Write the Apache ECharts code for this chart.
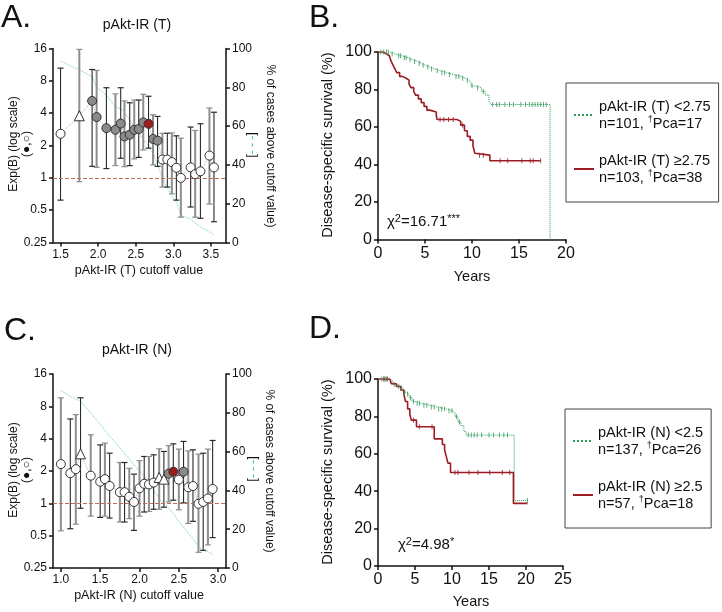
<!DOCTYPE html>
<html><head><meta charset="utf-8">
<script src="https://cdn.jsdelivr.net/npm/echarts@6/dist/echarts.min.js"></script>
<style>html,body{margin:0;padding:0;background:#fff}#c{width:722px;height:612px}</style>
</head><body><div id="c"></div><script>
const FONT = '"Liberation Sans", Arial, Helvetica, sans-serif';
const GREEN = '#2f9a5a', RED = '#9c1c24', CYAN = '#6ccfc6', DASH = '#b9705a';

// ---------- Panel A : pAkt-IR (T) ----------
const cutA  = [1.5,1.75,1.92,1.98,2.11,2.23,2.3,2.35,2.42,2.48,2.54,2.6,2.67,2.73,2.79,2.855,2.92,2.98,3.04,3.1,3.23,3.29,3.36,3.48,3.54];
const expA  = [2.57,3.78,5.2,3.68,2.9,2.8,3.2,2.43,2.52,2.8,2.85,3.28,3.18,2.3,2.22,1.48,1.48,1.4,1.24,1.0,1.25,1.08,1.15,1.61,1.25];
const loA   = [0.62,0.92,1.28,1.25,1.22,1.3,1.52,1.27,1.3,1.5,1.55,1.82,1.89,1.32,1.28,0.82,0.82,0.71,0.62,0.43,0.535,0.43,0.42,0.57,0.39];
const hiA   = [10.5,15.7,10.2,10,6.9,6.05,6.9,5.2,5.0,5.3,5.3,6.0,5.75,3.87,3.73,2.6,2.6,2.62,2.46,2.34,2.97,2.76,3.19,4.47,4.08];
const typeA = ['o','t','g','g','g','g','g','g','g','g','g','g','r','g','g','o','o','o','o','o','o','o','o','o','o'];
const pctA  = [93.5,89,85.5,80,76,70,69,67,63,60,57,53,50,46,40,33,28,24,21,14,12,10,8,5.5,4];

// ---------- Panel C : pAkt-IR (N) ----------
const cutC  = [1.0,1.12,1.19,1.25,1.38,1.5,1.56,1.62,1.75,1.81,1.87,1.93,2.0,2.06,2.12,2.18,2.25,2.31,2.37,2.43,2.5,2.56,2.62,2.68,2.75,2.81,2.87,2.93];
const expC  = [2.32,1.91,2.08,2.89,1.81,1.59,1.68,1.45,1.27,1.27,1.15,1.03,1.38,1.52,1.5,1.56,1.74,1.68,1.89,1.97,1.66,1.97,1.41,1.45,0.99,1.03,1.11,1.36];
const loC   = [0.555,0.58,0.64,0.9,0.76,0.74,0.76,0.73,0.67,0.67,0.72,0.56,0.76,0.83,0.84,0.88,0.88,0.92,1.03,1.07,0.87,1.01,0.65,0.68,0.35,0.365,0.41,0.48];
const hiC   = [9.6,6.1,6.7,9.6,4.35,3.5,3.64,2.93,2.4,2.4,2.12,1.87,2.5,2.73,2.73,2.83,3.22,3.04,3.45,3.58,3.2,3.77,3.08,3.15,2.87,2.93,3.2,3.85];
const typeC = ['o','o','o','t','o','o','o','o','o','o','o','o','o','o','o','o','t','t','g','r','o','g','o','o','o','o','o','o'];
const pctC  = [91.5,88.5,87,86,80,74,71,68,62,59,56.5,53,50,47.5,44,40,36,33,31,28,24,21,18,15,11,9,8.5,7];

const xTicksA = [1.5,2.0,2.5,3.0,3.5];
const xTicksC = [1.0,1.5,2.0,2.5,3.0];

// ---------- Panel B : Kaplan-Meier (T) ----------
const bLowName = 'pAkt-IR (T) <2.75', bHighName = 'pAkt-IR (T) \u22652.75';
const bLowT  = [0,1.3,1.8,2.5,3.2,3.6,4.2,4.6,5.0,5.5,6.0,6.6,7.3,8.0,8.8,9.3,9.6,9.9,10.3,11.0,11.4,11.8,12.0,18.3];
const bLowS  = [100,99,98,97,96,95,94,93,92,91,90,89,88,87,86,85,84,82,81,79,77,74,72,0];
const bLowCens = [0.3,0.6,0.9,1.1,1.5,2.2,2.4,2.8,3.0,3.4,3.9,4.4,4.8,5.3,5.7,6.3,6.8,7.1,7.6,8.3,8.6,9.0,9.5,10.0,10.6,11.2,12.2,12.6,12.9,13.5,14.0,14.4,15.2,15.7,16.1,16.4,16.7,17.0,17.3,17.6,17.9];
const bHighT = [0,0.5,0.9,1.2,1.4,1.6,1.8,2.0,2.3,2.6,3.0,3.3,3.5,3.8,4.0,4.3,4.6,4.9,5.2,5.5,6.2,6.3,8.4,8.8,9.2,9.5,9.8,10.1,10.3,10.5,11.9,17.3];
const bHighS = [100,99,98,97,95,93,91,89,87,86,85,83,81,79,77,75,73,71,69,68,66,64,63,61,58,55,53,50,46,45,42,42];
const bHighCens = [6.6,7.0,7.5,8.0,9.0,10.8,11.2,13.0,13.8,15.3,16.2,16.5,17.3];

// ---------- Panel D : Kaplan-Meier (N) ----------
const dLowName = 'pAkt-IR (N) <2.5', dHighName = 'pAkt-IR (N) \u22652.5';
const dLowT  = [0,1.6,2.0,2.6,3.0,3.4,3.8,4.2,4.6,5.0,5.8,7.0,8.0,9.2,10.1,10.4,10.8,11.2,11.6,11.9,18.4,20.2];
const dLowS  = [100,99,97,96,95,93,92,90,88,87,86,85,84,83,82,80,77,75,72,70,35,35];
const dLowCens = [0.5,0.8,1.0,1.3,2.2,2.8,3.2,3.6,4.0,4.4,4.8,5.3,5.6,6.2,6.6,7.2,7.6,8.2,8.6,9.0,9.6,10.0,10.6,11.0,12.2,12.6,13.0,13.4,14.0,15.0,15.6,16.4,17.0,17.5,20.2];
const dHighT = [0,1.6,1.8,2.5,3.1,3.5,3.7,4.0,4.3,4.5,5.2,7.6,8.7,9.0,9.2,9.45,9.8,18.3,20.2];
const dHighS = [100,99,97.5,96,94,92,88,84,81,78,74.5,68,65,62,59,55,50,33.5,33.5];
const dHighCens = [0.8,1.2,4.8,5.6,7.3,10.4,10.8,12.3,13.5,15.1,16.8,17.8];

const legendText = {
  [bLowName]:  ['pAkt-IR (T) <2.75', 'n=101, ', 'Pca=17'],
  [bHighName]: ['pAkt-IR (T) \u22652.75', 'n=103, ', 'Pca=38'],
  [dLowName]:  ['pAkt-IR (N) <2.5', 'n=137, ', 'Pca=26'],
  [dHighName]: ['pAkt-IR (N) \u22652.5', 'n=57, ', 'Pca=18']
};

// ---------- helpers ----------
function survAt(T, S, t) { let s = S[0]; for (let i = 0; i < T.length; i++) { if (T[i] <= t) s = S[i]; } return s; }
function axis(o, fs) {
  return Object.assign({
    type: 'value',
    axisLine: { show: true, onZero: false, lineStyle: { color: '#111', width: 1.5 } },
    axisTick: { show: true, length: 4, lineStyle: { color: '#111', width: 1.5 } },
    axisLabel: { color: '#111', fontFamily: FONT, fontSize: fs || 12, margin: 6 },
    splitLine: { show: false }
  }, o);
}
function errSeries(xi, yi, cut, lo, hi, startDark) {
  return {
    type: 'custom', xAxisIndex: xi, yAxisIndex: yi, z: 3, silent: true,
    data: cut.map((x, i) => [x, lo[i], hi[i]]),
    encode: { x: 0, y: [1, 2] },
    renderItem: function (params, api) {
      const x = api.value(0);
      const a = api.coord([x, api.value(1)]);
      const b = api.coord([x, api.value(2)]);
      const dark = ((params.dataIndex % 2) === 0) === startDark;
      const stroke = dark ? '#2a2a2a' : '#8e8e8e';
      const lw = dark ? 1.1 : 2;
      const c = 3;
      return { type: 'group', children: [
        { type: 'line', shape: { x1: a[0], y1: a[1], x2: b[0], y2: b[1] }, style: { stroke: stroke, lineWidth: lw } },
        { type: 'line', shape: { x1: a[0] - c, y1: a[1], x2: a[0] + c, y2: a[1] }, style: { stroke: stroke, lineWidth: 1.2 } },
        { type: 'line', shape: { x1: b[0] - c, y1: b[1], x2: b[0] + c, y2: b[1] }, style: { stroke: stroke, lineWidth: 1.2 } }
      ] };
    }
  };
}
function pts(xi, yi, cut, val, types, code, symbol, color, size) {
  return {
    type: 'scatter', xAxisIndex: xi, yAxisIndex: yi, z: 6, silent: true, symbol: symbol, symbolSize: size,
    itemStyle: { color: color, borderColor: '#333', borderWidth: 1, opacity: 1 },
    data: cut.map((x, i) => types[i] === code ? [x, val[i]] : null).filter(v => v)
  };
}
function markerSet(xi, yi, cut, val, types) {
  return [
    pts(xi, yi, cut, val, types, 'o', 'circle', '#fff', 9),
    pts(xi, yi, cut, val, types, 't', 'triangle', '#fff', 10),
    pts(xi, yi, cut, val, types, 'g', 'circle', '#8a8a8a', 9),
    pts(xi, yi, cut, val, types, 'r', 'circle', '#9c1c1c', 9)
  ];
}
function cutoffPanel(xi, yL, yR, cut, val, lo, hi, types, pct, startDark) {
  return [
    { type: 'line', xAxisIndex: xi, yAxisIndex: yR, z: 2, silent: true, symbol: 'none',
      data: cut.map((x, i) => [x, pct[i]]), lineStyle: { color: CYAN, width: 1, type: 'dotted' } },
    { type: 'line', xAxisIndex: xi, yAxisIndex: yL, z: 2, silent: true, symbol: 'none',
      data: cut.map((x, i) => [x, val[i]]), lineStyle: { color: '#b0b0b0', width: 1, type: 'dotted' },
      markLine: { silent: true, symbol: 'none', label: { show: false }, animation: false,
        lineStyle: { color: DASH, width: 1.2, type: [4, 2] }, data: [{ yAxis: 1 }] } },
    errSeries(xi, yL, cut, lo, hi, startDark)
  ].concat(markerSet(xi, yL, cut, val, types));
}
function kmSeries(xi, yi, name, T, S, cens, color, width, dash) {
  return [
    { type: 'line', name: name, xAxisIndex: xi, yAxisIndex: yi, step: 'end', symbol: 'none', silent: true, z: 3,
      data: T.map((t, i) => [t, S[i]]), lineStyle: { color: color, width: width, type: dash }, itemStyle: { color: color } },
    { type: 'scatter', name: name + ' censored', xAxisIndex: xi, yAxisIndex: yi, silent: true, z: 4,
      symbol: 'rect', symbolSize: [1, 5], itemStyle: { color: color },
      data: cens.map(t => [t, survAt(T, S, t)]) }
  ];
}
function legendCfg(names, left, top) {
  return {
    data: names, orient: 'vertical', left: left, top: top,
    borderColor: '#444', borderWidth: 1, padding: [15, 8, 16, 7],
    itemGap: 20, itemWidth: 20, itemHeight: 8, selectedMode: false,
    itemStyle: { opacity: 0 },
    textStyle: { fontFamily: FONT, fontSize: 14.5, color: '#111', lineHeight: 17,
      rich: { t: { fontFamily: FONT, fontSize: 14.5, lineHeight: 17, color: '#111' },
              s: { fontFamily: FONT, fontSize: 9, lineHeight: 9, verticalAlign: 'top', color: '#111' } } },
    formatter: function (n) { const L = legendText[n]; return '{t|' + L[0] + '}\n{t|' + L[1] + '}{s|\u2020}{t|' + L[2] + '}'; }
  };
}
const supRich = { m: { fontFamily: FONT, fontSize: 15, lineHeight: 18, fill: '#111' },
                  s: { fontFamily: FONT, fontSize: 11, lineHeight: 8, verticalAlign: 'top', fill: '#111' } };
function txt(x, y, text, fs, rot) {
  return { type: 'text', x: x, y: y, rotation: rot || 0, silent: true,
    style: { text: text, fontFamily: FONT, fontSize: fs, fill: '#111', align: 'center', verticalAlign: 'middle' } };
}
function letter(x, y, t) {
  return { type: 'text', x: x, y: y, silent: true, style: { text: t, fontFamily: FONT, fontSize: 32, fill: '#111', align: 'left', verticalAlign: 'middle' } };
}
const logLabel = v => String(+(+v).toPrecision(4));
const bracketStyle = { text: '[{c|- - -}]', fontFamily: FONT, fontSize: 12, fill: '#111', align: 'center', verticalAlign: 'middle',
  rich: { c: { fontFamily: FONT, fontSize: 12, fill: '#3fb5ad' } } };

const option = {
  animation: false,
  backgroundColor: '#fff',
  grid: [
    { left: 53, top: 48.5, width: 173, height: 194 },
    { left: 378, top: 52, width: 188, height: 187.5 },
    { left: 53, top: 374, width: 173, height: 194 },
    { left: 378, top: 379, width: 185, height: 187 }
  ],
  xAxis: [
    axis({ gridIndex: 0, min: 1.4, max: 3.7,
      axisLabel: { color: '#111', fontFamily: FONT, fontSize: 12, margin: 6, customValues: xTicksA, formatter: v => (+v).toFixed(1) },
      axisTick: { show: true, length: 4, customValues: xTicksA, lineStyle: { color: '#111', width: 1.5 } } }),
    axis({ gridIndex: 1, min: 0, max: 20, interval: 5 }, 16),
    axis({ gridIndex: 2, min: 0.9, max: 3.1,
      axisLabel: { color: '#111', fontFamily: FONT, fontSize: 12, margin: 6, customValues: xTicksC, formatter: v => (+v).toFixed(1) },
      axisTick: { show: true, length: 4, customValues: xTicksC, lineStyle: { color: '#111', width: 1.5 } } }),
    axis({ gridIndex: 3, min: 0, max: 25, interval: 5 }, 16)
  ],
  yAxis: [
    axis({ gridIndex: 0, type: 'log', logBase: 2, min: 0.25, max: 16,
      axisLabel: { color: '#111', fontFamily: FONT, fontSize: 12, margin: 6, formatter: logLabel } }),
    axis({ gridIndex: 0, position: 'right', min: 0, max: 100, interval: 20 }),
    axis({ gridIndex: 1, min: 0, max: 100, interval: 20 }, 16),
    axis({ gridIndex: 2, type: 'log', logBase: 2, min: 0.25, max: 16,
      axisLabel: { color: '#111', fontFamily: FONT, fontSize: 12, margin: 6, formatter: logLabel } }),
    axis({ gridIndex: 2, position: 'right', min: 0, max: 100, interval: 20 }),
    axis({ gridIndex: 3, min: 0, max: 100, interval: 20 }, 16)
  ],
  legend: [legendCfg([bLowName, bHighName], 566, 83), legendCfg([dLowName, dHighName], 565, 409)],
  series: [].concat(
    cutoffPanel(0, 0, 1, cutA, expA, loA, hiA, typeA, pctA, true),
    cutoffPanel(2, 3, 4, cutC, expC, loC, hiC, typeC, pctC, false),
    kmSeries(1, 2, bLowName, bLowT, bLowS, bLowCens, GREEN, 1, 'dotted'),
    kmSeries(1, 2, bHighName, bHighT, bHighS, bHighCens, RED, 1.6, 'solid'),
    kmSeries(3, 5, dLowName, dLowT, dLowS, dLowCens, GREEN, 1, 'dotted'),
    kmSeries(3, 5, dHighName, dHighT, dHighS, dHighCens, RED, 1.6, 'solid')
  ),
  graphic: [
    letter(1, 18, 'A.'), letter(309, 18, 'B.'), letter(4, 331, 'C.'), letter(309, 329, 'D.'),
    txt(137, 25, 'pAkt-IR (T)', 14),
    txt(137, 350, 'pAkt-IR (N)', 14),
    txt(139, 271, 'pAkt-IR (T) cutoff value', 12.5),
    txt(139, 596, 'pAkt-IR (N) cutoff value', 12.5),
    txt(13.5, 144, 'Exp(B) (log scale)', 12, Math.PI / 2),
    txt(27, 144, '(\u25CF,\u25CB)', 12, Math.PI / 2),
    txt(13.5, 470, 'Exp(B) (log scale)', 12, Math.PI / 2),
    txt(27, 470, '(\u25CF,\u25CB)', 12, Math.PI / 2),
    txt(270, 146, '% of cases above cutoff value)', 12, -Math.PI / 2),
    txt(269, 471, '% of cases above cutoff value)', 12, -Math.PI / 2),
    { type: 'text', x: 252, y: 145, rotation: -Math.PI / 2, silent: true, style: bracketStyle },
    { type: 'text', x: 253, y: 469, rotation: -Math.PI / 2, silent: true, style: bracketStyle },
    txt(328, 145, 'Disease-specific survival (%)', 14.5, Math.PI / 2),
    txt(328, 472, 'Disease-specific survival (%)', 14.5, Math.PI / 2),
    txt(472, 277, 'Years', 14.5),
    txt(471, 602, 'Years', 14.5),
    { type: 'text', x: 387, y: 222, silent: true, style: { text: '{m|\u03C7}{s|2}{m|=16.71}{s|***}', fontFamily: FONT, fontSize: 15, fill: '#111', align: 'left', verticalAlign: 'middle', rich: supRich } },
    { type: 'text', x: 398, y: 545, silent: true, style: { text: '{m|\u03C7}{s|2}{m|=4.98}{s|*}', fontFamily: FONT, fontSize: 15, fill: '#111', align: 'left', verticalAlign: 'middle', rich: supRich } }
  ]
};
const chart = echarts.init(document.getElementById('c'), null, { renderer: 'canvas' });
chart.setOption(option);
</script></body></html>
